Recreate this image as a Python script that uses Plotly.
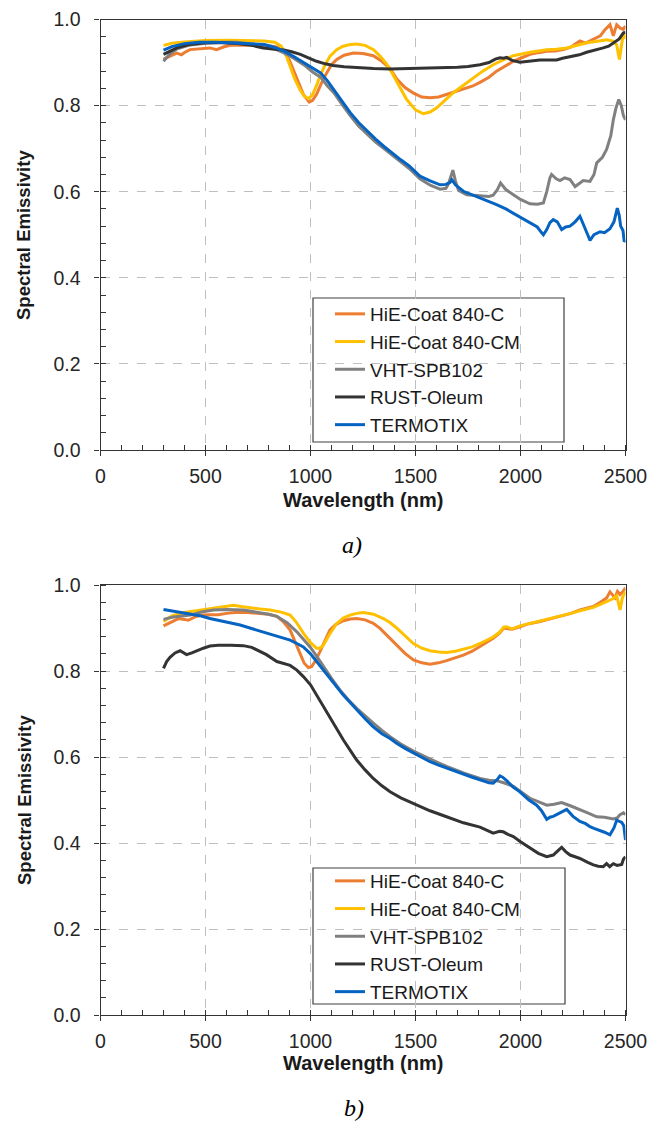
import plotly.graph_objects as go

W, H = 665, 1123

names = ["HiE-Coat 840-C", "HiE-Coat 840-CM", "VHT-SPB102", "RUST-Oleum", "TERMOTIX"]
colors = ["#ED7D31", "#FFC000", "#808080", "#333333", "#0563C1"]

# ---------------- panel a) ----------------
a_c_wl = [300,330,363,385,402,426,470,521,553,585,617,680,744,800,839,873,900,918,940,966,994,1010,1029,1050,1077,1100,1125,1160,1204,1250,1299,1340,1379,1410,1450,1490,1530,1569,1610,1648,1690,1728,1770,1807,1850,1886,1930,1966,2000,2045,2085,2125,2165,2204,2240,2283,2310,2347,2380,2400,2426,2442,2458,2475,2490,2500]
a_c_em = [0.908,0.915,0.922,0.918,0.924,0.930,0.932,0.934,0.930,0.936,0.940,0.941,0.940,0.939,0.936,0.926,0.905,0.884,0.855,0.826,0.808,0.812,0.826,0.850,0.876,0.895,0.907,0.917,0.922,0.921,0.916,0.903,0.886,0.862,0.842,0.829,0.820,0.818,0.820,0.826,0.831,0.837,0.845,0.854,0.866,0.880,0.893,0.903,0.910,0.919,0.923,0.926,0.927,0.930,0.936,0.950,0.945,0.955,0.962,0.975,0.988,0.962,0.988,0.980,0.977,0.985]

a_cm_wl = [300,340,400,500,600,700,780,830,860,880,902,925,950,970,990,1010,1030,1045,1070,1093,1125,1155,1190,1220,1260,1300,1331,1360,1379,1410,1435,1458,1500,1537,1570,1601,1640,1680,1730,1775,1820,1870,1920,1966,2000,2045,2085,2125,2170,2220,2270,2315,2360,2410,2440,2458,2471,2480,2490,2500]
a_cm_em = [0.940,0.945,0.948,0.951,0.952,0.951,0.950,0.947,0.938,0.922,0.891,0.862,0.837,0.822,0.816,0.825,0.848,0.868,0.895,0.915,0.930,0.938,0.942,0.943,0.940,0.930,0.915,0.898,0.884,0.857,0.835,0.814,0.790,0.781,0.785,0.795,0.812,0.830,0.848,0.864,0.880,0.895,0.907,0.916,0.920,0.924,0.927,0.930,0.931,0.934,0.940,0.946,0.949,0.953,0.950,0.941,0.907,0.940,0.969,0.955]

a_vht_wl = [300,330,365,420,500,580,650,720,780,830,876,920,971,1010,1048,1080,1111,1150,1190,1230,1270,1310,1350,1390,1430,1470,1521,1570,1617,1645,1657,1670,1678,1690,1705,1744,1807,1850,1870,1890,1905,1930,1966,2000,2045,2080,2109,2125,2140,2148,2170,2188,2210,2236,2260,2280,2299,2331,2350,2363,2390,2410,2430,2442,2455,2468,2480,2490,2500]
a_vht_em = [0.903,0.920,0.932,0.940,0.945,0.947,0.947,0.944,0.940,0.932,0.922,0.910,0.894,0.878,0.866,0.846,0.830,0.803,0.776,0.752,0.733,0.715,0.700,0.684,0.669,0.654,0.630,0.615,0.606,0.608,0.618,0.640,0.650,0.625,0.603,0.593,0.590,0.589,0.592,0.605,0.620,0.605,0.593,0.582,0.572,0.571,0.574,0.600,0.632,0.640,0.630,0.626,0.632,0.628,0.612,0.620,0.626,0.624,0.640,0.667,0.680,0.698,0.730,0.767,0.795,0.814,0.800,0.777,0.767]

a_rust_wl = [300,330,363,420,500,580,650,720,775,830,873,910,952,990,1029,1070,1108,1160,1220,1300,1379,1450,1530,1600,1650,1700,1750,1807,1850,1880,1902,1920,1934,1960,1997,2040,2093,2130,2172,2200,2252,2280,2315,2350,2394,2420,2442,2470,2490,2500]
a_rust_em = [0.919,0.927,0.934,0.942,0.946,0.946,0.944,0.940,0.934,0.931,0.929,0.925,0.919,0.911,0.903,0.897,0.893,0.890,0.888,0.886,0.885,0.886,0.886,0.887,0.888,0.889,0.891,0.895,0.900,0.908,0.911,0.910,0.912,0.905,0.901,0.904,0.906,0.906,0.906,0.910,0.915,0.918,0.924,0.928,0.934,0.938,0.946,0.955,0.969,0.970]

a_term_wl = [300,340,400,470,550,620,700,781,830,876,920,971,1010,1048,1080,1111,1150,1190,1230,1270,1310,1350,1390,1430,1470,1521,1570,1617,1645,1665,1673,1690,1728,1770,1807,1850,1886,1930,1966,2000,2045,2080,2100,2109,2125,2140,2156,2175,2196,2215,2236,2260,2283,2300,2320,2331,2350,2379,2400,2426,2445,2461,2470,2477,2488,2494,2500]
a_term_em = [0.929,0.937,0.944,0.947,0.947,0.946,0.944,0.942,0.935,0.926,0.914,0.899,0.888,0.876,0.858,0.837,0.810,0.783,0.760,0.740,0.722,0.705,0.689,0.674,0.660,0.636,0.625,0.616,0.617,0.622,0.628,0.616,0.601,0.593,0.585,0.577,0.570,0.560,0.550,0.542,0.529,0.518,0.505,0.500,0.512,0.528,0.535,0.530,0.512,0.518,0.520,0.530,0.543,0.525,0.500,0.487,0.500,0.507,0.505,0.514,0.530,0.562,0.545,0.520,0.510,0.484,0.487]

# ---------------- panel b) ----------------
b_c_wl = [300,330,371,400,418,450,482,520,561,600,640,700,744,800,840,870,903,930,950,970,990,1005,1025,1045,1070,1092,1120,1156,1190,1220,1260,1299,1331,1379,1410,1450,1490,1530,1569,1610,1648,1690,1728,1770,1807,1840,1870,1900,1920,1934,1960,1997,2040,2093,2140,2188,2240,2283,2320,2347,2380,2410,2426,2440,2450,2462,2474,2488,2500]
b_c_em = [0.905,0.913,0.922,0.920,0.918,0.926,0.930,0.931,0.931,0.934,0.936,0.936,0.935,0.932,0.927,0.915,0.895,0.866,0.841,0.818,0.808,0.810,0.825,0.845,0.873,0.895,0.908,0.917,0.921,0.922,0.919,0.911,0.899,0.876,0.860,0.841,0.826,0.819,0.816,0.819,0.824,0.830,0.837,0.846,0.857,0.866,0.876,0.888,0.900,0.899,0.897,0.903,0.910,0.915,0.921,0.926,0.934,0.942,0.946,0.950,0.960,0.970,0.984,0.975,0.970,0.985,0.978,0.985,0.993]

b_cm_wl = [300,340,400,427,480,538,590,633,670,712,760,808,860,903,930,966,1000,1029,1045,1061,1090,1124,1156,1188,1220,1252,1300,1347,1380,1410,1450,1490,1530,1569,1610,1648,1690,1728,1770,1807,1840,1870,1900,1920,1934,1960,1997,2040,2093,2140,2188,2240,2283,2320,2347,2380,2410,2440,2458,2474,2485,2500]
b_cm_em = [0.915,0.928,0.936,0.938,0.942,0.946,0.950,0.953,0.950,0.947,0.944,0.942,0.937,0.930,0.915,0.888,0.866,0.853,0.853,0.860,0.885,0.910,0.923,0.930,0.934,0.936,0.932,0.922,0.912,0.900,0.882,0.864,0.853,0.847,0.844,0.843,0.846,0.850,0.856,0.864,0.871,0.879,0.890,0.902,0.903,0.898,0.905,0.910,0.916,0.922,0.928,0.934,0.940,0.944,0.948,0.955,0.962,0.968,0.975,0.942,0.970,0.985]

b_vht_wl = [300,340,427,480,538,600,680,744,800,840,890,935,965,998,1030,1061,1100,1140,1180,1220,1260,1299,1340,1379,1430,1490,1570,1648,1728,1807,1850,1886,1920,1966,2000,2045,2090,2125,2160,2196,2240,2283,2320,2363,2400,2442,2460,2474,2490,2500]
b_vht_em = [0.920,0.925,0.930,0.937,0.942,0.943,0.942,0.937,0.932,0.927,0.912,0.891,0.875,0.856,0.834,0.810,0.783,0.756,0.733,0.713,0.695,0.679,0.662,0.647,0.630,0.614,0.595,0.578,0.563,0.550,0.546,0.545,0.540,0.532,0.520,0.504,0.495,0.488,0.490,0.494,0.486,0.478,0.470,0.461,0.460,0.456,0.458,0.466,0.470,0.466]

b_rust_wl = [300,315,331,355,379,395,410,435,458,490,521,560,620,680,720,744,790,840,880,903,935,966,1000,1029,1061,1092,1125,1156,1190,1220,1260,1299,1340,1379,1430,1490,1569,1648,1728,1807,1850,1870,1900,1918,1940,1966,2000,2045,2085,2125,2156,2180,2196,2215,2236,2260,2283,2320,2347,2370,2394,2410,2425,2442,2460,2482,2490,2500]
b_rust_em = [0.806,0.822,0.832,0.842,0.847,0.843,0.838,0.842,0.847,0.853,0.858,0.860,0.860,0.859,0.855,0.849,0.838,0.822,0.817,0.813,0.802,0.787,0.768,0.744,0.718,0.694,0.667,0.640,0.615,0.593,0.570,0.550,0.533,0.519,0.505,0.492,0.475,0.461,0.447,0.437,0.428,0.423,0.427,0.426,0.420,0.415,0.403,0.388,0.376,0.368,0.372,0.383,0.390,0.380,0.372,0.368,0.364,0.355,0.349,0.346,0.345,0.352,0.345,0.352,0.348,0.350,0.362,0.368]

b_term_wl = [300,340,380,427,480,521,585,665,744,823,870,903,935,966,1000,1029,1061,1092,1125,1156,1190,1220,1260,1299,1340,1379,1410,1450,1490,1530,1569,1610,1648,1690,1728,1770,1807,1850,1870,1890,1902,1915,1934,1965,1997,2040,2077,2100,2125,2140,2156,2190,2220,2250,2283,2310,2331,2350,2379,2400,2426,2445,2458,2470,2482,2492,2500]
b_term_em = [0.943,0.940,0.936,0.933,0.928,0.922,0.915,0.907,0.895,0.884,0.878,0.872,0.864,0.856,0.840,0.822,0.802,0.783,0.763,0.744,0.726,0.709,0.689,0.670,0.654,0.643,0.632,0.620,0.610,0.599,0.589,0.581,0.574,0.567,0.560,0.553,0.547,0.540,0.539,0.548,0.556,0.553,0.545,0.530,0.519,0.500,0.488,0.475,0.455,0.460,0.462,0.470,0.478,0.462,0.450,0.445,0.438,0.434,0.429,0.425,0.419,0.435,0.453,0.450,0.448,0.440,0.407]

x_ticks = [0, 500, 1000, 1500, 2000, 2500]
y_ticks = [0.0, 0.2, 0.4, 0.6, 0.8, 1.0]

panel_a = [(a_c_wl, a_c_em), (a_cm_wl, a_cm_em), (a_vht_wl, a_vht_em), (a_rust_wl, a_rust_em), (a_term_wl, a_term_em)]
panel_b = [(b_c_wl, b_c_em), (b_cm_wl, b_cm_em), (b_vht_wl, b_vht_em), (b_rust_wl, b_rust_em), (b_term_wl, b_term_em)]

fig = go.Figure()
for i, (wl, em) in enumerate(panel_a):
    fig.add_trace(go.Scatter(x=wl, y=em, mode="lines", name=names[i],
                             line=dict(color=colors[i], width=3),
                             xaxis="x", yaxis="y", legend="legend"))
for i, (wl, em) in enumerate(panel_b):
    fig.add_trace(go.Scatter(x=wl, y=em, mode="lines", name=names[i],
                             line=dict(color=colors[i], width=3),
                             xaxis="x2", yaxis="y2", legend="legend2"))

def px_x(p):
    return p / W

def px_y(p):
    return (H - p) / H

axcol = "#333333"
tickfont = dict(family="Liberation Sans, Arial, sans-serif", size=19.5, color="#262626")

def xax(anchor):
    return dict(domain=[px_x(100.5), px_x(625.5)], anchor=anchor, range=[0, 2500],
                tickvals=x_ticks, ticktext=[str(v) for v in x_ticks], automargin=False,
                showline=True, linecolor=axcol, linewidth=1.2, mirror=True,
                ticks="outside", ticklen=5, tickwidth=1.2, tickcolor=axcol,
                minor=dict(dtick=100, ticks="inside", ticklen=5, tickwidth=1, tickcolor=axcol, showgrid=False),
                showgrid=True, gridcolor="#BFBFBF", griddash="dash", gridwidth=1,
                zeroline=False, tickfont=tickfont, ticklabelstandoff=3)

def yax(anchor, top, bottom):
    return dict(domain=[px_y(bottom), px_y(top)], anchor=anchor, range=[0, 1],
                tickvals=y_ticks, ticktext=["%.1f" % v for v in y_ticks], automargin=False,
                showline=True, linecolor=axcol, linewidth=1.2, mirror=True,
                ticks="outside", ticklen=5, tickwidth=1.2, tickcolor=axcol,
                minor=dict(dtick=0.04, ticks="inside", ticklen=5, tickwidth=1, tickcolor=axcol, showgrid=False),
                showgrid=True, gridcolor="#BFBFBF", griddash="dash", gridwidth=1,
                zeroline=False, tickfont=tickfont, ticklabelstandoff=10)

legfont = dict(family="Liberation Sans, Arial, sans-serif", size=19, color="#1a1a1a")

annots = []
for (xc, yc) in [(363, 500), (363, 1063)]:
    annots.append(dict(text="<b>Wavelength (nm)</b>", x=px_x(xc), y=px_y(yc), xref="paper", yref="paper",
                       showarrow=False, xanchor="center", yanchor="middle",
                       font=dict(family="Liberation Sans, Arial, sans-serif", size=20, color="#1a1a1a")))
for yc in [235, 800]:
    annots.append(dict(text="<b>Spectral Emissivity</b>", x=px_x(24), y=px_y(yc), xref="paper", yref="paper",
                       showarrow=False, xanchor="center", yanchor="middle", textangle=-90,
                       font=dict(family="Liberation Sans, Arial, sans-serif", size=18.5, color="#1a1a1a")))
for lab, xc, yc in [("a)", 352, 545), ("b)", 354, 1108)]:
    annots.append(dict(text="<i>" + lab + "</i>", x=px_x(xc), y=px_y(yc), xref="paper", yref="paper",
                       showarrow=False, xanchor="center", yanchor="middle",
                       font=dict(family="Liberation Serif, Times New Roman, serif", size=24, color="#000000")))

shapes = []
for (x0, y0, x1, y1) in [(313, 298, 564, 442), (313, 868, 565, 1004)]:
    shapes.append(dict(type="rect", xref="paper", yref="paper",
                       x0=px_x(x0), x1=px_x(x1), y0=px_y(y1), y1=px_y(y0),
                       line=dict(color="#404040", width=1.2), fillcolor="white", layer="below"))

fig.update_layout(
    width=W, height=H, margin=dict(l=0, r=0, t=0, b=0, autoexpand=False),
    paper_bgcolor="white", plot_bgcolor="white",
    xaxis=xax("y"), yaxis=yax("x", 19.5, 450),
    xaxis2=xax("y2"), yaxis2=yax("x2", 585, 1015),
    legend=dict(x=px_x(330), y=px_y(295), xanchor="left", yanchor="top",
                bgcolor="rgba(0,0,0,0)", borderwidth=0, font=legfont, tracegroupgap=0),
    legend2=dict(x=px_x(330), y=px_y(862), xanchor="left", yanchor="top",
                 bgcolor="rgba(0,0,0,0)", borderwidth=0, font=legfont, tracegroupgap=0),
    annotations=annots, shapes=shapes, showlegend=True,
)

fig.write_html("out.html")
